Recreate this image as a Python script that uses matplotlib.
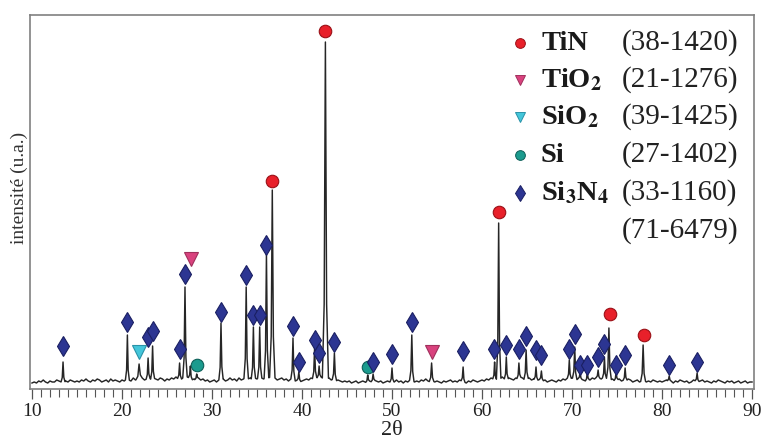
import numpy as np
import matplotlib
matplotlib.use("Agg")
import matplotlib.pyplot as plt
from matplotlib.ticker import MultipleLocator

plt.rcParams['font.family'] = ['Liberation Serif', 'DejaVu Serif']
plt.rcParams['mathtext.fontset'] = 'stix'

# ---------------- data ----------------
# background noise, sampled every 0.25 deg from 10 to 90 (arbitrary units)
bg_start, bg_step = 10.0, 0.25
background = [
    1,2,1,3,2,4,2,1,3,2,2,4,3,2,1,3,2,4,3,2,
    3,2,4,3,5,3,2,4,3,5,4,2,3,4,2,5,3,4,3,2,
    4,3,5,4,3,6,4,5,3,6,4,5,7,4,6,5,4,6,5,3,
    5,4,6,5,7,5,4,6,5,7,6,4,5,3,6,4,5,3,4,2,
    3,4,2,4,3,5,3,4,6,4,5,3,6,4,5,7,5,6,4,6,
    5,7,6,5,8,6,7,5,6,4,5,6,4,5,3,5,4,3,4,2,
    3,4,5,4,6,5,7,6,8,6,7,5,6,4,5,3,4,3,2,3,
    2,3,1,2,3,1,2,3,2,1,3,2,4,3,2,3,1,2,3,2,
    3,2,4,2,3,1,3,2,4,3,2,3,2,4,3,5,3,2,3,2,
    3,2,1,3,2,3,4,2,3,2,4,3,2,1,3,2,4,3,2,3,
    4,3,5,4,6,5,4,6,5,7,5,4,6,5,4,6,5,7,6,4,
    5,6,4,5,3,4,5,3,4,2,3,4,3,2,4,3,5,4,6,5,
    6,5,4,6,5,4,3,5,4,6,5,7,6,5,7,6,5,4,5,3,
    4,5,3,4,3,5,4,2,3,4,2,3,4,2,3,2,4,3,2,3,
    2,3,4,2,3,1,3,2,4,3,2,3,1,2,4,3,2,3,4,2,
    3,2,1,3,2,4,3,2,1,3,2,3,1,2,3,1,2,3,1,2,
    2,
]

# diffraction peaks: position (2theta), top intensity, half width at base
peak_pos = [13.45, 20.6, 21.9, 22.9, 23.4, 26.4, 27.0, 27.6, 28.3, 31.0,
            33.8, 34.6, 35.3, 36.05, 36.7, 39.0, 39.65, 41.4, 41.9, 42.6,
            43.6, 47.3, 47.9, 50.0, 52.2, 54.4, 57.9, 61.4, 61.85, 62.7,
            64.1, 64.9, 66.0, 66.6, 69.7, 70.3, 70.9, 71.7, 72.9, 73.6,
            74.1, 74.9, 75.9, 77.9, 80.8, 83.9]
peak_int = [22, 49, 20, 26, 38, 21, 97, 18, 10, 61,
            97, 57, 57, 131, 194, 46, 12, 36, 18, 342,
            31, 9, 10, 16, 49, 21, 17, 22, 161, 27,
            21, 34, 17, 13, 24, 37, 12, 12, 14, 27,
            56, 12, 16, 39, 8, 11]
peak_hw = [0.22, 0.22, 0.35, 0.22, 0.22, 0.22, 0.25, 0.22, 0.22, 0.24,
           0.25, 0.24, 0.24, 0.26, 0.3, 0.24, 0.22, 0.24, 0.22, 0.34,
           0.24, 0.22, 0.22, 0.22, 0.25, 0.26, 0.22, 0.2, 0.25, 0.22,
           0.22, 0.24, 0.22, 0.22, 0.22, 0.25, 0.22, 0.22, 0.22, 0.22,
           0.27, 0.22, 0.22, 0.27, 0.22, 0.22]

# phase markers (2theta, intensity where the symbol sits)
tin_x = [36.7, 42.6, 61.85, 74.2, 77.95]
tin_y = [203, 353, 172, 70, 49]
tio2_x = [27.65, 54.4]
tio2_y = [125, 32]
sio2_x = [21.9]
sio2_y = [32]
si_x = [28.35, 47.3]
si_y = [19, 17]
si3n4_x = [13.45, 20.6, 22.9, 23.4, 26.4, 27.0, 31.0, 33.75, 34.6, 35.35,
           36.0, 39.0, 39.7, 41.4, 41.9, 43.6, 47.9, 50.0, 52.2, 57.9,
           61.3, 62.7, 64.1, 64.9, 66.0, 66.6, 69.7, 70.3, 70.9, 71.7,
           72.9, 73.6, 74.9, 75.9, 80.8, 83.9]
si3n4_y = [38, 62, 47, 53, 35, 110, 72, 109, 69, 69,
           139, 58, 22, 44, 31, 42, 22, 30, 62, 33,
           35, 39, 35, 48, 34, 29, 35, 50, 19, 19,
           27, 40, 19, 29, 19, 22]

legend_labels = ['TiN', 'TiO$_\\mathbf{2}$', 'SiO$_\\mathbf{2}$', 'Si',
                 'Si$_\\mathbf{3}$N$_\\mathbf{4}$']
legend_codes = ['(38-1420)', '(21-1276)', '(39-1425)', '(27-1402)', '(33-1160)']
legend_extra = '(71-6479)'

x_ticks = [10, 20, 30, 40, 50, 60, 70, 80, 90]

# ---------------- build spectrum polyline ----------------
bg = np.array(background, dtype=float)
bg_x = bg_start + bg_step * np.arange(len(bg))
keep = np.ones(len(bg_x), dtype=bool)
px_list, py_list = [], []
for c, h, w in zip(peak_pos, peak_int, peak_hw):
    keep &= ~((bg_x > c - w) & (bg_x < c + w))
    b0 = np.interp(c - w, bg_x, bg)
    b1 = np.interp(c + w, bg_x, bg)
    px_list += [c - w, c - 0.4 * w, c, c + 0.4 * w, c + w]
    py_list += [b0, b0 + 0.22 * (h - b0), h, b1 + 0.22 * (h - b1), b1]
spec_x = np.concatenate([bg_x[keep], px_list])
spec_y = np.concatenate([bg[keep], py_list])
order = np.argsort(spec_x, kind='stable')
spec_x, spec_y = spec_x[order], spec_y[order]

# ---------------- figure ----------------
W, H = 766, 445
fig = plt.figure(figsize=(W / 100, H / 100), dpi=100)
ax = fig.add_axes([30 / W, 56 / H, 724 / W, 374 / H])

ax.plot(spec_x, spec_y, color='#262626', lw=1.05, zorder=2)

styles = {
    'TiN': dict(marker='o', mfc='#e8202a', mec='#9a1016', ms=9),
    'TiO2': dict(marker='v', mfc='#d9427e', mec='#a0305c', ms=9.5),
    'SiO2': dict(marker='v', mfc='#44c6da', mec='#2a92a8', ms=9.5),
    'Si': dict(marker='o', mfc='#1b9b8e', mec='#0d5f58', ms=9),
    'Si3N4': dict(marker='d', mfc='#2c3592', mec='#1a1f62', ms=10.5),
}
for key, xs, ys in [('TiN', tin_x, tin_y), ('TiO2', tio2_x, tio2_y),
                    ('SiO2', sio2_x, sio2_y), ('Si', si_x, si_y),
                    ('Si3N4', si3n4_x, si3n4_y)]:
    ax.plot(xs, ys, ls='none', mew=0.8, zorder=3, **styles[key])

ax.set_xlim(9.78, 90.22)
ax.set_ylim(-5, 369)
ax.set_yticks([])
ax.set_xticks(x_ticks)
ax.set_xticklabels([str(t) for t in x_ticks], fontsize=14, color='#222')
ax.xaxis.set_minor_locator(MultipleLocator(1))
ax.tick_params(axis='x', which='major', direction='out', length=7, width=0.9,
               color='#555', pad=3)
ax.tick_params(axis='x', which='minor', direction='out', length=5.5, width=0.8,
               color='#555')
for s in ax.spines.values():
    s.set_color('#808080')
    s.set_linewidth(1.2)

ax.set_xlabel('2θ', fontsize=16, color='#222', labelpad=1)
fig.text(19 / W, 1 - 188 / H, 'intensité (u.a.)', rotation=90, fontsize=14,
         color='#333', ha='center', va='center')

# ---------------- legend ----------------
def fpx(x, y):
    return x / W, 1 - y / H

rows_y = [43, 80, 117, 155, 193]
leg_styles = ['TiN', 'TiO2', 'SiO2', 'Si', 'Si3N4']
leg_ms = [7, 7.5, 7.5, 7, 8.5]
for yy, key, ms, lab, code in zip(rows_y, leg_styles, leg_ms, legend_labels, legend_codes):
    st = dict(styles[key])
    st['ms'] = ms
    mx, my = fpx(520, yy)
    fig.add_artist(plt.Line2D([mx], [my], ls='none', mew=0.7,
                              transform=fig.transFigure, **st))
    tx, ty = fpx(541, yy)
    fig.text(tx, ty, lab, fontsize=20.5, fontweight='bold', color='#1a1a1a',
             ha='left', va='center')
    cx, cy = fpx(622, yy)
    fig.text(cx, cy, code, fontsize=21, color='#222', ha='left', va='center')
cx, cy = fpx(622, 231)
fig.text(cx, cy, legend_extra, fontsize=21, color='#222', ha='left', va='center')

fig.savefig('out.png', dpi=100)
